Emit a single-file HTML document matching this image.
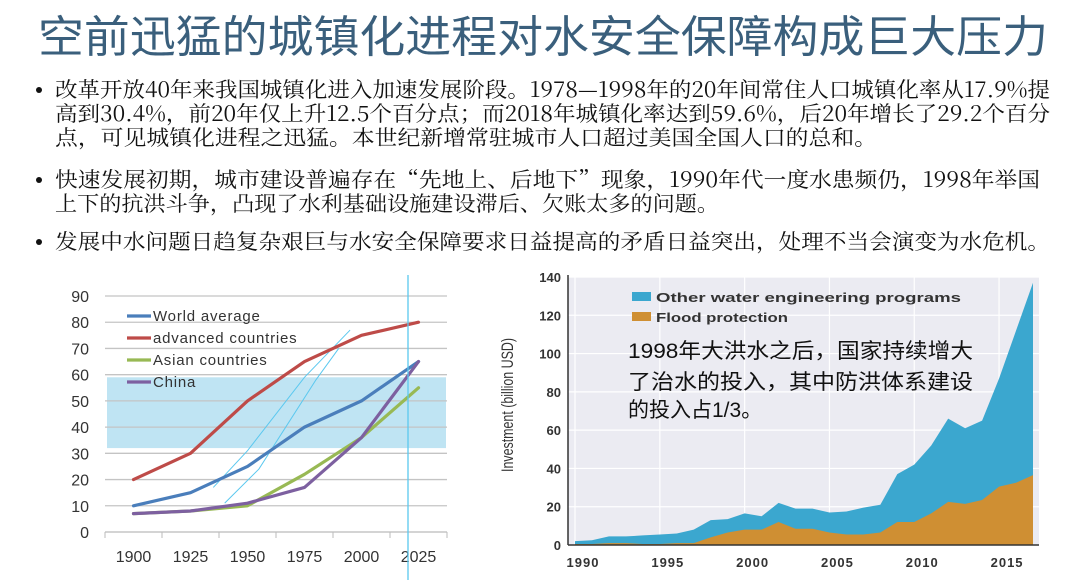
<!DOCTYPE html>
<html><head><meta charset="utf-8"><style>
body{margin:0;background:#fff;}
svg{display:block;}
.body{font-family:"Noto Serif CJK SC","Liberation Serif",serif;font-size:21px;fill:#111;}
.ax{font-family:"Liberation Sans","Noto Sans CJK SC",sans-serif;}
</style></head><body>
<svg id="s" width="1080" height="587" viewBox="0 0 1080 587">
<text x="38" y="52" textLength="1010" lengthAdjust="spacingAndGlyphs" font-family="'Liberation Sans','Noto Sans CJK SC',sans-serif" font-size="44" fill="#3a5f7c">空前迅猛的城镇化进程对水安全保障构成巨大压力</text>
<g class="body">
<circle cx="39" cy="90" r="3" fill="#111"/>
<text x="55" y="97" textLength="995" lengthAdjust="spacingAndGlyphs">改革开放40年来我国城镇化进入加速发展阶段。1978—1998年的20年间常住人口城镇化率从17.9%提</text>
<text x="55" y="121" textLength="995" lengthAdjust="spacingAndGlyphs">高到30.4%，前20年仅上升12.5个百分点；而2018年城镇化率达到59.6%，后20年增长了29.2个百分</text>
<text x="55" y="145" textLength="822" lengthAdjust="spacingAndGlyphs">点，可见城镇化进程之迅猛。本世纪新增常驻城市人口超过美国全国人口的总和。</text>
<circle cx="39" cy="180" r="3" fill="#111"/>
<text x="55" y="187" textLength="985" lengthAdjust="spacingAndGlyphs">快速发展初期，城市建设普遍存在“先地上、后地下”现象，1990年代一度水患频仍，1998年举国</text>
<text x="55" y="211" textLength="664" lengthAdjust="spacingAndGlyphs">上下的抗洪斗争，凸现了水利基础设施建设滞后、欠账太多的问题。</text>
<circle cx="39" cy="242" r="3" fill="#111"/>
<text x="55" y="249" textLength="995" lengthAdjust="spacingAndGlyphs">发展中水问题日趋复杂艰巨与水安全保障要求日益提高的矛盾日益突出，处理不当会演变为水危机。</text>
</g>
<g id="left"></g>
<g id="right"></g>
</svg>
<script>
const NS='http://www.w3.org/2000/svg';
function mk(p,t,a,txt){const e=document.createElementNS(NS,t);for(const k in a)e.setAttribute(k,a[k]);if(txt!==undefined)e.textContent=txt;p.appendChild(e);return e;}

// ---- Left chart data ----
const years=['1900','1925','1950','1975','2000','2025'];
const worldAvg=[10,15,25,40,50,65];
const advanced=[20,30,50,65,75,80];
const asian=[7,8,10,22,36,55];
const china=[7,8,11,17,36,65];
const leftTicks=[0,10,20,30,40,50,60,70,80,90];
const seriesNames=['World average','advanced countries','Asian countries','China'];

// ---- Right chart data ----
const invYears=[1990,1991,1992,1993,1994,1995,1996,1997,1998,1999,2000,2001,2002,2003,2004,2005,2006,2007,2008,2009,2010,2011,2012,2013,2014,2015,2016,2017];
const invTotal=[2,2.5,4.5,4.5,5,5.5,6,8,13,13.5,16.5,15,22,19,19,17,17.5,19.5,21,37,42,52,66,61,65,87,112,137];
const invFlood=[0.5,0.5,1,1,0.5,0.5,1,1,4,6.5,8,8,12,8.5,8.5,6.5,5.5,5.5,6.5,12,12,16.5,22.5,21.5,23.5,30.5,32.5,36.5];
const invTicks=[0,20,40,60,80,100,120,140];
const invXTicks=[1990,1995,2000,2005,2010,2015];

(function(){
const g=document.getElementById('left');
const x0=105,x1=447,y0=532,y1=296;
const band=(x1-x0)/years.length;
const X=i=>x0+band*(i+0.5);
const Xv=v=>x0+band*((v-1900)/25+0.5);
const Y=v=>y0-(v/90)*(y0-y1);
let r=mk(g,'rect',{x:107,y:Y(59),width:339,height:Y(32)-Y(59),fill:'#bfe4f3'});


leftTicks.forEach(t=>{
 if(t>0){let l=mk(g,'line',{x1:x0,x2:x1,y1:Y(t),y2:Y(t),stroke:'#c4c4c4','stroke-width':1.3});
 }
 let tx=mk(g,'text',{x:89,y:Y(t)+6,'text-anchor':'end','font-size':16,fill:'#333',class:'ax'},String(t));
 
});
let ax=mk(g,'line',{x1:x0,x2:x1,y1:y0,y2:y0,stroke:'#bbb','stroke-width':1.3});

for(let i=0;i<=years.length;i++){let t=mk(g,'line',{x1:x0+band*i,x2:x0+band*i,y1:y0,y2:y0+6,stroke:'#bbb'});
 }
years.forEach((yv,i)=>{let t=mk(g,'text',{x:X(i),y:562,'text-anchor':'middle','font-size':16,fill:'#333',class:'ax'},yv);
 });
const thinA=[[1935,17],[1950,31],[1975,59],[1995,77]];
const thinB=[[1940,11],[1955,24],[1980,58],[1990,70]];
[thinA,thinB].forEach(pts=>{let p=mk(g,'polyline',{points:pts.map(q=>Xv(q[0])+','+Y(q[1])).join(' '),fill:'none',stroke:'#5bc8ef','stroke-width':1});
 });
const cols=['#4a7ebb','#be4b48','#98b954','#7d60a0'];
[worldAvg,advanced,asian,china].forEach((s,k)=>{
 let p=mk(g,'polyline',{points:s.map((v,i)=>X(i)+','+Y(v)).join(' '),fill:'none',stroke:cols[k],'stroke-width':3.2,'stroke-linejoin':'round','stroke-linecap':'round'});
 
 
 let ly=316+k*22;
 let l=mk(g,'line',{x1:127,x2:151,y1:ly,y2:ly,stroke:cols[k],'stroke-width':3.2});
 
 let t=mk(g,'text',{x:153,y:ly+5,'font-size':15,fill:'#333',class:'ax','letter-spacing':'0.8'},seriesNames[k]);
 
});
let v=mk(g,'line',{x1:408,x2:408,y1:275,y2:580,stroke:'#5bc8ef','stroke-width':1.3});

})();

(function(){
const g=document.getElementById('right');
const x0=575,x1=1033,y0=545,y1=277;
const X=yr=>x0+(yr-1990)*(x1-x0)/27;
const Y=v=>y0-(v/140)*(y0-y1);
let bg=mk(g,'rect',{x:568,y:y1,width:x1-568+6,height:y0-y1,fill:'#ebebf2'});

invTicks.forEach(t=>{
 let l=mk(g,'line',{x1:568,x2:x1+6,y1:Y(t),y2:Y(t),stroke:'#fff','stroke-width':1.2});
 
 let tx=mk(g,'text',{x:561,y:Y(t)+5,'text-anchor':'end','font-size':13,'font-weight':'bold',fill:'#333',class:'ax'},String(t));
 
});
invXTicks.forEach(yr=>{
 let l=mk(g,'line',{x1:X(yr),x2:X(yr),y1:y1,y2:y0,stroke:'#fff','stroke-width':1.2});
 
 let tx=mk(g,'text',{x:X(yr)+8,y:567,'text-anchor':'middle','font-size':13,'font-weight':'bold',fill:'#333',class:'ax','letter-spacing':'1'},String(yr));
 
});
const top=invYears.map((yr,i)=>X(yr)+','+Y(invTotal[i])).join(' ');
const fl=invYears.map((yr,i)=>X(yr)+','+Y(invFlood[i])).join(' ');
let a1=mk(g,'polygon',{points:X(1990)+','+y0+' '+top+' '+X(2017)+','+y0,fill:'#3ba7cf'});

let a2=mk(g,'polygon',{points:X(1990)+','+y0+' '+fl+' '+X(2017)+','+y0,fill:'#cf8f33'});

let ya=mk(g,'line',{x1:568,x2:568,y1:y1-2,y2:y0,stroke:'#333','stroke-width':1.5});

let xa=mk(g,'line',{x1:568,x2:x1+6,y1:y0,y2:y0,stroke:'#333','stroke-width':1.5});

let yt=mk(g,'text',{x:0,y:0,transform:'translate(513,405) rotate(-90)','text-anchor':'middle','font-size':17,fill:'#333',class:'ax',textLength:134,lengthAdjust:'spacingAndGlyphs'},'Investment (billion USD)');

[['#3ba7cf','Other water engineering programs',297,305],['#cf8f33','Flood protection',317,132]].forEach(L=>{
 let s=mk(g,'rect',{x:632,y:L[2]-5,width:19,height:9,fill:L[0]});
 
 let t=mk(g,'text',{x:656,y:L[2]+5,'font-size':13,'font-weight':'bold',fill:'#333',class:'ax',textLength:L[3],lengthAdjust:'spacingAndGlyphs'},L[1]);
 
});
const notes=[['1998年大洪水之后，国家持续增大',350,345],['了治水的投入，其中防洪体系建设',381,345],['的投入占1/3。',409,0]];
notes.forEach(n=>{
 const at={x:628,y:n[1]+8,'font-size':21,fill:'#111',class:'ax'};
 if(n[2]){at.textLength=n[2];at.lengthAdjust='spacingAndGlyphs';}
 let t=mk(g,'text',at,n[0]);
 
});
})();
</script>
</body></html>
